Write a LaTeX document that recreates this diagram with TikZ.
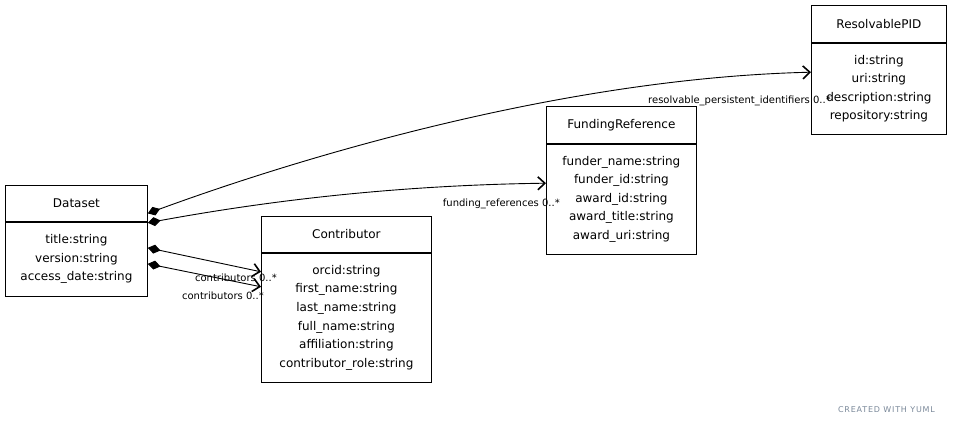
\documentclass[tikz,border=0pt]{standalone}
\usepackage{fontspec}
\setmainfont{DejaVu Sans}
\usetikzlibrary{positioning,arrows.meta}
\definecolor{yumlgray}{HTML}{7A8899}
\tikzset{
  classhead/.style={draw, line width=0.8pt, fill=white, inner sep=0pt, font=\fontsize{12}{13}\selectfont},
  classbody/.style={draw, line width=0.8pt, fill=white, inner sep=0pt, align=center, font=\fontsize{12}{18.6}\selectfont},
  assoc/.style={line width=0.9pt, {Diamond[length=13pt,width=9pt]}-{Straight Barb[length=7pt,width=13pt,line width=1.6pt]}},
  rolelabel/.style={anchor=east, inner sep=0pt, font=\fontsize{10}{11}\selectfont}
}
\begin{document}
\begin{tikzpicture}[x=1pt, y=-1pt]
    % Cadre de l'image
    \useasboundingbox (0,0) rectangle (953,425);

    % Classe Dataset
    \node[classhead, anchor=north west, minimum width=142pt, minimum height=36pt] (dshead) at (5,185) {Dataset};
    \node[classbody, below=0pt of dshead, minimum width=142pt, minimum height=74pt] (dsbody)
        {title:string\\version:string\\access\_date:string};

    % Classe Contributor
    \node[classhead, anchor=north west, minimum width=170pt, minimum height=36pt] (cthead) at (261,216) {Contributor};
    \node[classbody, below=0pt of cthead, minimum width=170pt, minimum height=129pt] (ctbody)
        {orcid:string\\first\_name:string\\last\_name:string\\full\_name:string\\affiliation:string\\contributor\_role:string};

    % Classe FundingReference
    \node[classhead, anchor=north west, minimum width=150pt, minimum height=37pt] (frhead) at (546,106) {FundingReference};
    \node[classbody, below=0pt of frhead, minimum width=150pt, minimum height=110pt] (frbody)
        {funder\_name:string\\funder\_id:string\\award\_id:string\\award\_title:string\\award\_uri:string};

    % Classe ResolvablePID
    \node[classhead, anchor=north west, minimum width=135pt, minimum height=37pt] (rphead) at (811,5) {ResolvablePID};
    \node[classbody, below=0pt of rphead, minimum width=135pt, minimum height=91pt] (rpbody)
        {id:string\\uri:string\\description:string\\repository:string};

    % Associations
    \draw[assoc] ([yshift=-10pt]dshead.east) .. controls +(150,-55) and +(-250,6) .. ([yshift=16.5pt]rpbody.west);
    \draw[assoc] ([yshift=-1pt]dsbody.north east) .. controls +(120,-22) and +(-150,2) .. ([yshift=16pt]frbody.west);
    \draw[assoc] ([yshift=-26pt]dsbody.north east) -- ([yshift=-19pt]ctbody.north west);
    \draw[assoc] ([yshift=-42pt]dsbody.north east) -- ([yshift=-34pt]ctbody.north west);

    % Libellés des rôles
    \node[rolelabel] (rplabel) at ([xshift=20pt, yshift=-12pt]rpbody.west) {resolvable\_persistent\_identifiers 0..*};
    \node[rolelabel] (frlabel) at ([xshift=14pt, yshift=-5pt]frbody.west) {funding\_references 0..*};
    \node[rolelabel] (ctlabela) at ([xshift=16pt, yshift=-25pt]ctbody.north west) {contributors 0..*};
    \node[rolelabel] (ctlabelb) at ([xshift=3pt, yshift=-43pt]ctbody.north west) {contributors 0..*};

    % Signature
    \node[anchor=east, inner sep=0pt, text=yumlgray, font=\fontsize{8}{10}\addfontfeatures{LetterSpace=10}] (credit) at (935,410) {CREATED WITH YUML};
\end{tikzpicture}
\end{document}
